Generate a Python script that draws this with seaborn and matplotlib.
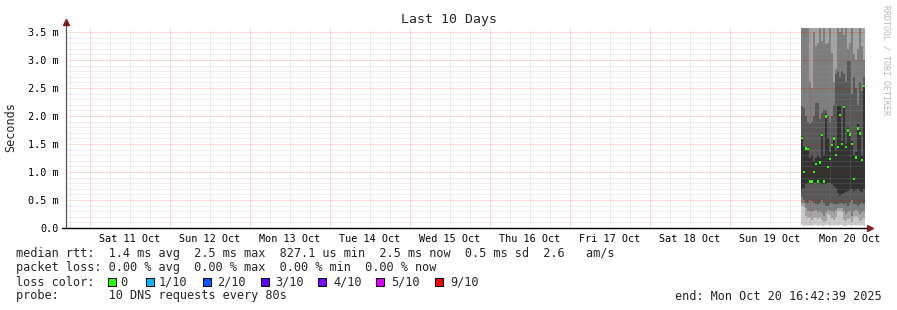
import numpy as np
import pandas as pd
import matplotlib
matplotlib.use("Agg")
import matplotlib.pyplot as plt
import matplotlib.dates as mdates
import matplotlib.ticker as mticker
from matplotlib.patches import Rectangle
import seaborn as sns

sns.set_style("white")
plt.rcParams['font.family'] = ['DejaVu Sans Mono']

# ---------------- data (values in milliseconds) ----------------
t_start = "2025-10-10 16:42:39"
t_end = "2025-10-20 16:42:39"
first_col = "2025-10-19 21:24:00"
col_minutes = 36

median = [1.61, 1.00, 1.42, 1.41, 0.83, 0.83, 1.00, 1.14, 0.83, 1.17, 1.66, 0.83,
          1.99, 1.09, 1.23, 1.48, 1.60, 1.30, 1.45, 2.02, 1.50, 2.16, 1.45, 1.74,
          1.67, 1.50, 0.88, 1.26, 1.78, 1.69, 1.21, 2.54]
cp1 = [0.05, 0.04, 0.06, 0.03, 0.05, 0.04, 0.06, 0.05, 0.03, 0.05, 0.04, 0.03,
       0.05, 0.06, 0.04, 0.05, 0.03, 0.05, 0.04, 0.06, 0.05, 0.03, 0.04, 0.05,
       0.06, 0.03, 0.05, 0.04, 0.06, 0.03, 0.05, 0.04]
cp2 = [0.39, 0.38, 0.22, 0.18, 0.20, 0.15, 0.18, 0.20, 0.16, 0.20, 0.15, 0.10,
       0.12, 0.25, 0.24, 0.18, 0.15, 0.20, 0.30, 0.30, 0.28, 0.15, 0.12, 0.16,
       0.18, 0.10, 0.20, 0.22, 0.20, 0.12, 0.15, 0.18]
cp3 = [0.45, 0.44, 0.35, 0.30, 0.30, 0.28, 0.30, 0.32, 0.28, 0.30, 0.26, 0.22,
       0.28, 0.32, 0.30, 0.30, 0.28, 0.32, 0.35, 0.36, 0.35, 0.30, 0.25, 0.28,
       0.30, 0.22, 0.30, 0.32, 0.30, 0.25, 0.28, 0.30]
cp4 = [0.55, 0.50, 0.45, 0.45, 0.50, 0.48, 0.45, 0.42, 0.42, 0.45, 0.50, 0.45,
       0.40, 0.40, 0.42, 0.45, 0.42, 0.42, 0.42, 0.45, 0.45, 0.42, 0.45, 0.40,
       0.45, 0.50, 0.42, 0.42, 0.40, 0.42, 0.45, 0.42]
cp5 = [0.70, 0.72, 0.78, 0.80, 0.78, 0.78, 0.80, 0.80, 0.78, 0.80, 0.78, 0.78,
       0.78, 0.80, 0.80, 0.78, 0.75, 0.72, 0.62, 0.58, 0.60, 0.62, 0.65, 0.66,
       0.68, 0.70, 0.66, 0.68, 0.70, 0.66, 0.65, 0.70]
cp6 = [1.65, 1.45, 1.45, 1.45, 1.25, 1.30, 1.20, 1.25, 1.30, 1.25, 1.70, 1.30,
       2.03, 1.60, 1.35, 1.50, 1.65, 1.40, 2.18, 2.18, 1.55, 2.20, 1.50, 1.80,
       1.70, 1.55, 1.30, 1.35, 1.85, 1.75, 1.30, 2.56]
cp7 = [2.18, 2.15, 2.00, 1.90, 1.85, 1.90, 2.00, 2.23, 2.23, 1.95, 2.05, 2.10,
       2.10, 2.00, 1.90, 2.00, 2.20, 2.75, 2.80, 2.70, 2.80, 2.75, 2.60, 2.98,
       2.98, 2.40, 2.70, 2.50, 2.20, 2.60, 2.45, 2.70]
cp8 = [3.90, 3.90, 3.90, 3.90, 2.60, 2.50, 3.50, 3.25, 3.30, 3.90, 3.34, 3.90,
       3.29, 3.30, 3.90, 3.12, 2.60, 2.84, 3.90, 3.50, 3.90, 3.45, 3.90, 3.20,
       3.30, 3.90, 3.10, 3.00, 3.20, 3.90, 3.25, 3.00]
cp9 = [4.0] * 32
cp10 = [4.5] * 32

y_major = [0.0, 0.5, 1.0, 1.5, 2.0, 2.5, 3.0, 3.5]
y_max = 3.571

legend_lines = [
    "median rtt:  1.4 ms avg  2.5 ms max  827.1 us min  2.5 ms now  0.5 ms sd  2.6   am/s",
    "packet loss: 0.00 % avg  0.00 % max  0.00 % min  0.00 % now",
    "loss color:",
    "probe:       10 DNS requests every 80s",
]
loss_labels = ["0", "1/10", "2/10", "3/10", "4/10", "5/10", "9/10"]
loss_colors = ["#26ff00", "#00b8ff", "#0059ff", "#5e00ff", "#7e00ff", "#dd00ff", "#ff0000"]
end_text = "end: Mon Oct 20 16:42:39 2025"

# ---------------- figure ----------------
W, H, DPI = 897, 310, 100
fig = plt.figure(figsize=(W / DPI, H / DPI), dpi=DPI)
fig.patch.set_facecolor("white")
ax = fig.add_axes([65.6 / W, 82 / H, 800 / W, 200 / H])
ax.set_facecolor("white")

times = pd.date_range(pd.Timestamp(first_col), periods=len(median), freq=f"{col_minutes}min")
x = mdates.date2num(times)
w = col_minutes / 1440.0

bands = [(cp1, cp10, "#cacaca"), (cp2, cp9, "#a4a4a4"), (cp3, cp8, "#7e7e7e"),
         (cp4, cp7, "#585858"), (cp5, cp6, "#323232")]
for lo, hi, c in bands:
    lo = np.array(lo); hi = np.array(hi)
    ax.bar(x, hi - lo, bottom=lo, width=w, align="edge", color=c,
           linewidth=0, antialiased=False, zorder=1)

med = np.array(median)
sw = y_max / 200 * 2.4
ax.bar(x, sw, bottom=med - sw / 2, width=w, align="edge", color="#26ff00",
       linewidth=0, antialiased=False, zorder=4)

ax.set_xlim(mdates.date2num(pd.Timestamp(t_start)), mdates.date2num(pd.Timestamp(t_end)))
ax.set_ylim(0, y_max)

# y axis
ax.yaxis.set_major_locator(mticker.FixedLocator(y_major))
ax.yaxis.set_minor_locator(mticker.MultipleLocator(0.1))
ax.set_yticklabels([("%.1f m" % v) if v > 0 else "0.0" for v in y_major])

# x axis: red day lines at midnight, grey every 6h, labels at noon
ax.xaxis.set_major_locator(mdates.DayLocator())
ax.xaxis.set_major_formatter(mticker.NullFormatter())
ax.xaxis.set_minor_locator(mdates.HourLocator(byhour=[0, 6, 12, 18]))

def noon_fmt(v, pos=None):
    d = mdates.num2date(v)
    if d.hour == 12:
        return d.strftime("%a %d Oct")
    return ""
ax.xaxis.set_minor_formatter(mticker.FuncFormatter(noon_fmt))

dot = (0, (1, 1))
ax.set_axisbelow(False)
ax.grid(which="major", axis="both", color="#ff0000", alpha=0.3, linestyle=dot, linewidth=0.72, zorder=3)
ax.grid(which="minor", axis="both", color="#999999", alpha=0.35, linestyle=dot, linewidth=0.72, zorder=2.5)

ax.tick_params(axis="y", which="major", length=3, width=0.72, color="#333333", pad=2,
               labelsize=7.3, labelcolor="black")
ax.tick_params(axis="y", which="minor", length=1.5, width=0.72, color="#888888")
ax.tick_params(axis="x", which="major", length=2.5, width=0.72, color="#ff8080")
ax.tick_params(axis="x", which="minor", length=2, width=0.72, color="#aaaaaa", pad=2.5,
               labelsize=7.3, labelcolor="black")

for s in ax.spines.values():
    s.set_visible(False)

# axis lines and arrows
ax.plot([0, 0], [0, 1.02], transform=ax.transAxes, color="#555555", lw=0.9, clip_on=False, zorder=5)
ax.plot([-4 / 800, 1.004], [0, 0], transform=ax.transAxes, color="black", lw=1.0, clip_on=False, zorder=5)
ax.plot([0], [1.03], transform=ax.transAxes, marker="^", markersize=4, color="#7f1f1f",
        clip_on=False, zorder=6)
ax.plot([1.006], [0], transform=ax.transAxes, marker=">", markersize=4, color="#7f1f1f",
        clip_on=False, zorder=6)

fig.text(11 / W, 1 - 127 / H, "Seconds", rotation=90, ha="center", va="center", fontsize=8.5)

# title, watermark
fig.text(0.5, 1 - 19 / H, "Last 10 Days", ha="center", va="center", fontsize=9.5)
fig.text(886 / W, 1 - 60 / H, "RRDTOOL / TOBI OETIKER", rotation=270, ha="center", va="center",
         fontsize=6, color="#b8b8b8")

# legend text
FS = 8.55
for i, line in enumerate(legend_lines):
    fig.text(16 / W, 1 - (254 + 14 * i) / H, line, ha="left", va="center", fontsize=FS)

box_x = [108, 146, 203, 261, 318, 376, 435]
lab_x = [120, 159, 217, 275, 333, 391, 450]
for bx, lx, lab, col in zip(box_x, lab_x, loss_labels, loss_colors):
    fig.add_artist(Rectangle((bx / W, 1 - 286 / H), 8 / W, 8 / H, transform=fig.transFigure,
                             facecolor=col, edgecolor="black", linewidth=0.72))
    fig.text(lx / W, 1 - 282 / H, lab, ha="left", va="center", fontsize=FS)

fig.text(882 / W, 1 - 296 / H, end_text, ha="right", va="center", fontsize=FS)

fig.savefig("out.png", dpi=DPI)
